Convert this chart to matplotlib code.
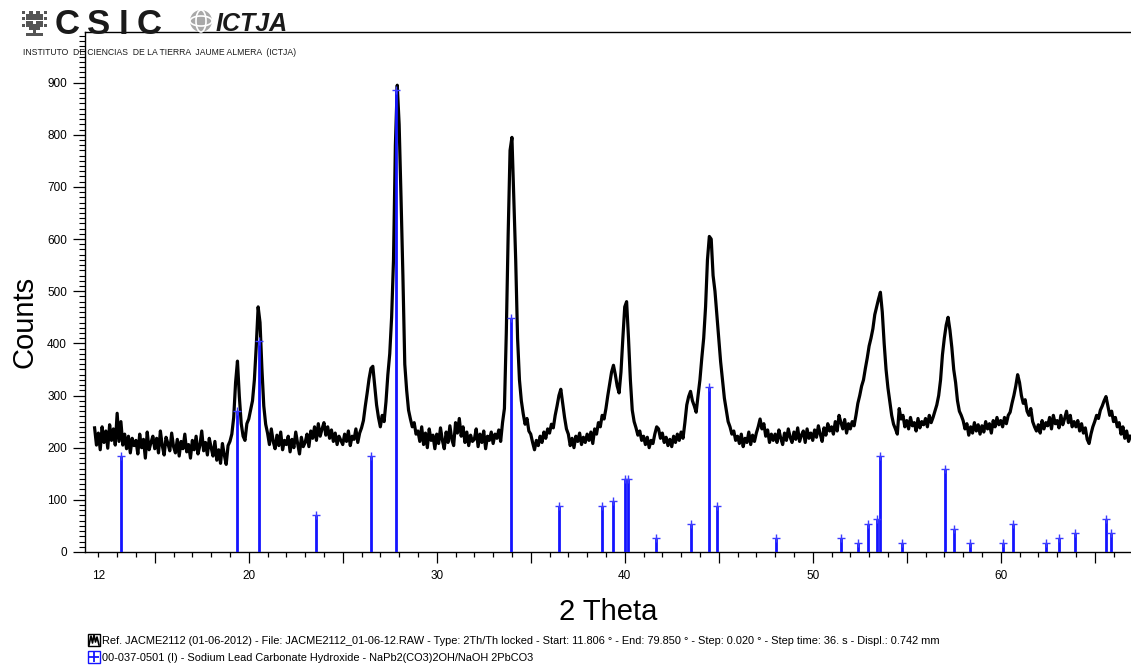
import matplotlib
matplotlib.use("Agg")
import matplotlib.pyplot as plt
import numpy as np
from matplotlib.patches import Circle, Rectangle, Arc
from matplotlib.ticker import MultipleLocator, FuncFormatter

W, H = 1131, 665
FONT = ["Liberation Sans", "DejaVu Sans"]
BLUE = "#1414ff"

# scan, resampled to 0.1 deg steps from 11.8 deg
SCAN_START = 11.8
SCAN_STEP = 0.1
COUNTS = [
    238, 205,
    228, 196, 240, 210, 232, 199, 244, 214, 236, 205,  # 12
    266, 212, 250, 205, 226, 198, 222, 190, 218, 204,  # 13
    214, 188, 226, 200, 216, 180, 230, 196, 210, 222,  # 14
    198, 218, 190, 232, 204, 186, 220, 208, 194, 228,  # 15
    202, 190, 216, 184, 212, 198, 226, 192, 206, 180,  # 16
    214, 196, 222, 188, 204, 232, 194, 210, 186, 218,  # 17
    200, 184, 212, 176, 196, 170, 208, 186, 168, 204,  # 18
    212, 226, 258, 325, 366, 298, 246, 222, 214, 246,  # 19
    255, 272, 290, 330, 395, 470, 440, 352, 280, 245,  # 20
    228, 206, 236, 212, 198, 224, 204, 230, 196, 214,  # 21
    206, 222, 192, 216, 200, 230, 208, 188, 220, 202,  # 22
    210, 226, 202, 232, 218, 240, 214, 246, 222, 236,  # 23
    248, 224, 240, 218, 234, 212, 228, 206, 222, 214,  # 24
    206, 226, 212, 232, 204, 222, 216, 236, 210, 228,  # 25
    238, 252, 280, 305, 332, 352, 356, 318, 282, 258,  # 26
    240, 262, 250, 288, 340, 380, 450, 560, 780, 895,  # 27
    820, 680, 530, 360, 310, 272, 255, 240, 248, 226,  # 28
    232, 212, 240, 206, 228, 200, 236, 214, 224, 198,  # 29
    226, 208, 238, 214, 198, 230, 210, 242, 216, 204,  # 30
    248, 228, 256, 222, 240, 210, 230, 204, 224, 212,  # 31
    216, 236, 202, 226, 210, 232, 198, 222, 214, 230,  # 32
    208, 226, 218, 234, 212, 248, 275, 420, 610, 770,  # 33
    795, 680, 560, 410, 330, 290, 265, 245, 256, 232,  # 34
    226, 210, 196, 214, 204, 222, 210, 230, 218, 236,  # 35
    228, 245, 238, 262, 280, 300, 312, 285, 258, 236,  # 36
    226, 204, 218, 200, 222, 212, 228, 206, 220, 210,  # 37
    226, 214, 230, 208, 236, 226, 248, 240, 262, 255,  # 38
    275, 300, 322, 345, 358, 340, 318, 305, 345, 410,  # 39
    470, 480, 410, 330, 272, 250, 238, 224, 232, 214,  # 40
    222, 206, 220, 200, 214, 208, 226, 240, 236, 218,  # 41
    228, 210, 220, 204, 216, 202, 222, 210, 226, 214,  # 42
    230, 218, 248, 282, 298, 308, 290, 280, 268, 300,  # 43
    330, 372, 410, 470, 560, 605, 600, 530, 500, 455,  # 44
    410, 365, 330, 295, 272, 250, 240, 226, 232, 214,  # 45
    222, 208, 226, 202, 218, 210, 230, 206, 224, 212,  # 46
    228, 240, 255, 236, 246, 222, 234, 210, 226, 214,  # 47
    226, 210, 234, 218, 206, 228, 214, 236, 220, 210,  # 48
    230, 216, 238, 212, 224, 232, 210, 236, 218, 228,  # 49
    214, 234, 220, 242, 226, 212, 238, 224, 246, 232,  # 50
    240, 226, 250, 232, 262, 248, 236, 254, 228, 246,  # 51
    236, 250, 242, 262, 285, 300, 318, 330, 352, 372,  # 52
    395, 410, 428, 455, 470, 485, 498, 460, 400, 350,  # 53
    315, 288, 262, 245, 236, 226, 275, 255, 262, 240,  # 54
    252, 236, 258, 242, 248, 232, 256, 238, 250, 244,  # 55
    256, 240, 262, 248, 258, 270, 282, 300, 330, 378,  # 56
    410, 435, 450, 425, 392, 350, 325, 290, 270, 262,  # 57
    252, 236, 246, 224, 240, 228, 248, 232, 244, 226,  # 58
    242, 230, 250, 236, 246, 228, 252, 240, 258, 244,  # 59
    252, 240, 258, 246, 262, 268, 285, 300, 318, 340,  # 60
    325, 300, 285, 292, 270, 262, 275, 250, 240, 232,  # 61
    244, 228, 252, 236, 248, 242, 258, 236, 262, 246,  # 62
    252, 238, 262, 244, 256, 270, 248, 262, 240, 250,  # 63
    240, 252, 232, 246, 228, 238, 216, 208, 226, 240,  # 64
    250, 262, 256, 272, 280, 290, 298, 280, 262, 270,  # 65
    250, 258, 240, 248, 226, 240, 218, 232, 212, 222,  # 66
]

# reference pattern 00-037-0501
STICK_2THETA = [13.21, 19.37, 20.56, 23.56, 26.50, 27.84, 33.97, 36.52, 38.78,
                39.38, 40.02, 40.19, 41.68, 43.51, 44.47, 44.93, 48.05, 51.50,
                52.43, 52.96, 53.44, 53.58, 54.77, 57.04, 57.49, 58.37, 60.14,
                60.67, 62.41, 63.10, 63.95, 65.58, 65.87]
STICK_COUNTS = [184, 271, 404, 70, 184, 886, 448, 88, 88,
                98, 140, 140, 27, 53, 317, 88, 27, 27,
                17, 53, 63, 184, 18, 159, 45, 18, 18,
                53, 18, 27, 36, 63, 36]

X_LABELED = [12, 20, 30, 40, 50, 60]

LEGEND_SCAN = ("Ref. JACME2112 (01-06-2012) - File: JACME2112_01-06-12.RAW - Type: 2Th/Th locked - "
               "Start: 11.806 \u00b0 - End: 79.850 \u00b0 - Step: 0.020 \u00b0 - Step time: 36. s - Displ.: 0.742 mm")
LEGEND_REF = "00-037-0501 (I) - Sodium Lead Carbonate Hydroxide - NaPb2(CO3)2OH/NaOH 2PbCO3"

two_theta = SCAN_START + SCAN_STEP * np.arange(len(COUNTS))

fig = plt.figure(figsize=(W / 100, H / 100), dpi=100)
fig.patch.set_facecolor("white")

ax = fig.add_axes([85 / W, (H - 552) / H, (W - 85) / W, (552 - 32) / H])
ax.plot(two_theta, COUNTS, color="black", lw=2.3, zorder=2)
ax.vlines(STICK_2THETA, 0, STICK_COUNTS, color=BLUE, lw=2.0, zorder=3)
ax.plot(STICK_2THETA, STICK_COUNTS, "+", color="#3c3cff", ms=6, mew=1.0, zorder=4)

ax.set_xlim(11.29, 66.93)
ax.set_ylim(0, 997)

ax.xaxis.set_major_locator(MultipleLocator(5))
ax.xaxis.set_minor_locator(MultipleLocator(1))
ax.xaxis.set_major_formatter(FuncFormatter(lambda v, p: f"{v:.0f}" if round(v) in X_LABELED else ""))
ax.xaxis.set_minor_formatter(FuncFormatter(lambda v, p: f"{v:.0f}" if round(v) in X_LABELED else ""))
ax.yaxis.set_major_locator(MultipleLocator(100))
ax.yaxis.set_minor_locator(MultipleLocator(10))

ax.tick_params(axis="x", which="major", direction="out", length=8, width=0.9, pad=5)
ax.tick_params(axis="x", which="minor", direction="out", length=3.8, width=0.9, pad=9.2)
ax.tick_params(axis="y", which="major", direction="out", length=9, width=0.9, pad=4)
ax.tick_params(axis="y", which="minor", direction="out", length=4.3, width=0.8)
for lab in ax.get_xticklabels(which="both") + ax.get_yticklabels():
    lab.set_fontfamily(FONT)
    lab.set_fontsize(8.5)

ax.spines["right"].set_visible(False)
for s in ("left", "bottom", "top"):
    ax.spines[s].set_linewidth(1.0)

fig.text(608 / W, 1 - 612 / H, "2 Theta", ha="center", va="center", fontsize=21, family=FONT)
fig.text(25 / W, 1 - 322 / H, "Counts", ha="center", va="center", rotation=90, fontsize=21, family=FONT)

# overlay in pixel coordinates for the header and the legend
ov = fig.add_axes([0, 0, 1, 1], zorder=5)
ov.set_xlim(0, W)
ov.set_ylim(H, 0)
ov.axis("off")
ov.patch.set_alpha(0)

# CSIC emblem, a pixel tree
TREE = [
    "1.1.1.1",
    ".11111.",
    "1111111",
    ".11.11.",
    "1111111",
    "..111..",
    "...1...",
    ".11111.",
]
for r, row in enumerate(TREE):
    for c, ch in enumerate(row):
        if ch == "1":
            ov.add_patch(Rectangle((22 + c * 3.6, 11 + r * 3.2), 3.4, 3.0, color="#555555", lw=0))

for x0, ch in zip([55, 87, 119, 137], "CSIC"):
    ov.text(x0, 34, ch, ha="left", va="baseline", fontsize=25, fontweight="bold", family=FONT, color="#1a1a1a")

ov.add_patch(Circle((201, 21), 11, color="#a8a8a8", lw=0))
ov.add_patch(Arc((201, 21), 22, 10, color="white", lw=1.2))
ov.add_patch(Arc((201, 21), 10, 22, color="white", lw=1.2))
ov.text(216, 31, "ICTJA", ha="left", va="baseline", fontsize=18, fontweight="bold",
        style="italic", family=FONT, color="#1a1a1a")
ov.text(23, 55, "INSTITUTO  DE CIENCIAS  DE LA TIERRA  JAUME ALMERA  (ICTJA)", ha="left", va="baseline",
        fontsize=6.2, family=FONT, color="#1a1a1a")

# legend rows
ov.add_patch(Rectangle((88, 634), 12, 12, fill=False, ec="black", lw=1.0))
ov.plot([89, 91, 92.5, 94, 95.5, 97, 99], [645, 636, 643, 635, 642, 637, 645], color="black", lw=1.2)
ov.text(102, 641, LEGEND_SCAN, ha="left", va="center", fontsize=7.9, family=FONT)
ov.add_patch(Rectangle((88, 651), 12, 12, fill=False, ec=BLUE, lw=1.0))
ov.plot([94], [657], "+", color=BLUE, ms=6.5, mew=1.3)
ov.text(102, 658, LEGEND_REF, ha="left", va="center", fontsize=7.9, family=FONT)

fig.savefig("out.png", dpi=100, facecolor="white")
